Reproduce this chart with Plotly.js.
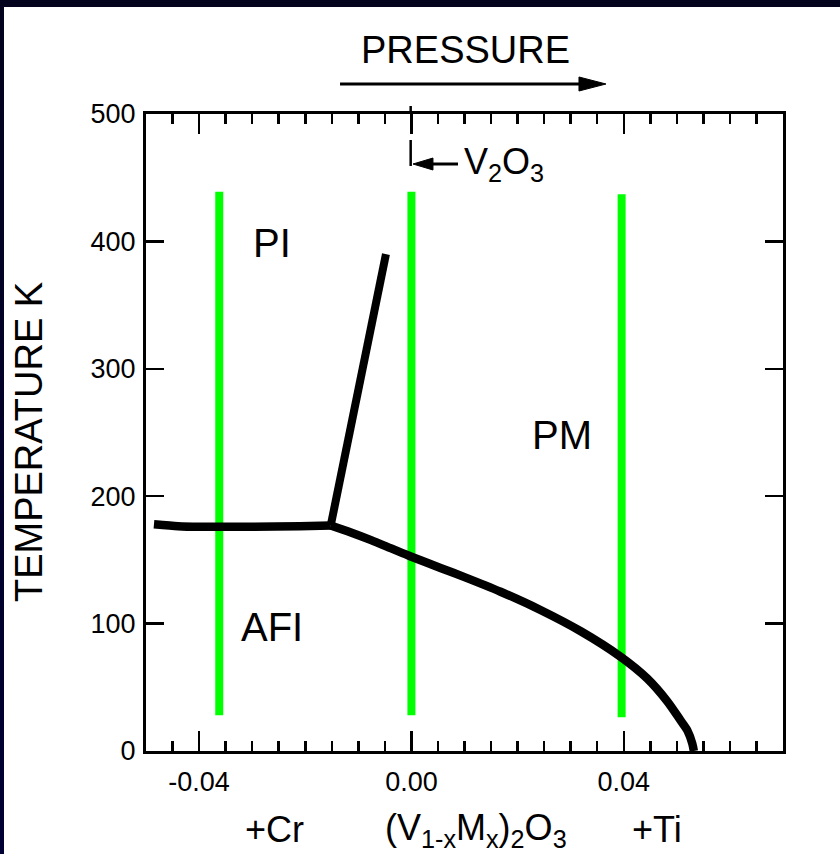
<!DOCTYPE html>
<html>
<head>
<meta charset="utf-8">
<script src="https://cdn.plot.ly/plotly-3.0.1.min.js"></script>
<style>
  html, body { margin: 0; padding: 0; width: 840px; height: 854px; overflow: hidden; }
  #frame { position: absolute; left: 0; top: 0; width: 840px; height: 854px;
           background: linear-gradient(180deg, #03031e 0%, #000034 100%); }
  #sheet { position: absolute; left: 4px; top: 7px; right: 0; bottom: 0; background: #ffffff; }
  #chart { position: absolute; left: 0; top: 0; width: 840px; height: 854px; }
</style>
</head>
<body>
<div id="frame"><div id="sheet"></div></div>
<div id="chart"></div>
<script>
// Phase diagram of (V1-xMx)2O3: doping x (Cr < 0 < Ti) vs temperature (K)

// AFI / PI boundary (nearly flat)
const afiPiX = [-0.0485, -0.0440, -0.0400, -0.0300, -0.0210, -0.0152];
const afiPiT = [178, 176.5, 176, 176, 176.5, 177];

// PI / PM boundary (steep line up from the triple point)
const piPmX = [-0.0152, -0.0048];
const piPmT = [177, 390];

// AFI / PM boundary (falling to zero on the Ti side)
const afiPmX = [-0.0152, -0.0114, -0.0076, -0.0038, 0.0000, 0.0056, 0.0100, 0.0168, 0.0244, 0.0319, 0.0394, 0.0444, 0.0482, 0.0507, 0.0520, 0.0529, 0.0532];
const afiPmT = [177, 171.5, 165.5, 159, 152.5, 143.5, 136.5, 125, 110.5, 94, 74, 57, 39, 24, 16, 6, 0];

// Green composition markers
const markerX = [-0.0362, 0.0000, 0.0396];
const markerTop = [439, 439, 437];
const markerBottom = [28, 28, 26.5];

// Axis ticks
const xTickVals = [-0.04, 0.00, 0.04];
const xTickText = ['-0.04', '0.00', '0.04'];
const yTickVals = [0, 100, 200, 300, 400, 500];

// Region names
const regionNames = ['PI', 'PM', 'AFI'];
const regionX = [-0.0263, 0.0283, -0.0263];
const regionT = [399, 248, 97];

const FONT = 'Liberation Sans, Arial, Helvetica, sans-serif';
const BLACK = '#000000';
const GREEN = '#00ff00';

const traces = [];
markerX.forEach((gx, i) => {
  traces.push({
    x: [gx, gx], y: [markerBottom[i], markerTop[i]],
    mode: 'lines', line: { color: GREEN, width: 8 }, hoverinfo: 'skip'
  });
});
traces.push({ x: afiPiX, y: afiPiT, mode: 'lines', line: { color: BLACK, width: 8.5, shape: 'spline', smoothing: 0.6 } });
traces.push({ x: piPmX, y: piPmT, mode: 'lines', line: { color: BLACK, width: 8 } });
traces.push({ x: afiPmX, y: afiPmT, mode: 'lines', cliponaxis: false, line: { color: BLACK, width: 8.5, shape: 'spline', smoothing: 0.8 } });

const center = { xanchor: 'center', yanchor: 'middle', showarrow: false };
const annotations = [];
regionNames.forEach((name, i) => {
  annotations.push(Object.assign({ x: regionX[i], y: regionT[i], xref: 'x', yref: 'y', text: name,
    font: { family: FONT, size: 40, color: BLACK } }, center));
});
annotations.push(
  Object.assign({ x: 0.5008, y: 1.1005, xref: 'paper', yref: 'paper', text: 'PRESSURE',
    font: { family: FONT, size: 38, color: BLACK } }, center),
  Object.assign({ x: -0.1837, y: 0.485, xref: 'paper', yref: 'paper', text: 'TEMPERATURE K', textangle: -90,
    font: { family: FONT, size: 38, color: BLACK } }, center),
  Object.assign({ x: 0.00947, y: 461, xref: 'x', yref: 'y', text: 'V<sub>2</sub>O<sub>3</sub>',
    font: { family: FONT, size: 36, color: BLACK } }, center, { xanchor: 'left' }),
  Object.assign({ x: 0.2025, y: -0.124, xref: 'paper', yref: 'paper', text: '+Cr',
    font: { family: FONT, size: 36, color: BLACK } }, center),
  Object.assign({ x: 0.518, y: -0.124, xref: 'paper', yref: 'paper', text: '(V<sub>1-x</sub>M<sub>x</sub>)<sub>2</sub>O<sub>3</sub>',
    font: { family: FONT, size: 36, color: BLACK } }, center),
  Object.assign({ x: 0.802, y: -0.124, xref: 'paper', yref: 'paper', text: '+Ti',
    font: { family: FONT, size: 36, color: BLACK } }, center)
);

const shapes = [
  // pressure arrow
  { type: 'line', xref: 'paper', yref: 'paper', x0: 0.3046, x1: 0.6892, y0: 1.0471, y1: 1.0471,
    line: { color: BLACK, width: 3 } },
  { type: 'path', xref: 'paper', yref: 'paper', path: 'M0.6797,1.0581 L0.7221,1.0471 L0.6797,1.0361 Z',
    fillcolor: BLACK, line: { color: BLACK, width: 1 } },
  // V2O3 pointer
  { type: 'line', xref: 'paper', yref: 'paper', x0: 0.4458, x1: 0.4898, y0: 0.9215, y1: 0.9215,
    line: { color: BLACK, width: 3 } },
  { type: 'path', xref: 'paper', yref: 'paper', path: 'M0.4505,0.9309 L0.4192,0.9215 L0.4505,0.9121 Z',
    fillcolor: BLACK, line: { color: BLACK, width: 1 } },
  { type: 'line', xref: 'paper', yref: 'paper', x0: 0.4155, x1: 0.4155, y0: 0.9592, y1: 0.9184,
    line: { color: BLACK, width: 2.5 } },
  { type: 'line', xref: 'paper', yref: 'paper', x0: 0.4155, x1: 0.4155, y0: 1.0, y1: 1.0126,
    line: { color: BLACK, width: 2.5 } }
];

const layout = {
  width: 840, height: 854,
  margin: { l: 146, r: 57, t: 114, b: 103, pad: 0 },
  paper_bgcolor: 'rgba(0,0,0,0)',
  plot_bgcolor: 'rgba(0,0,0,0)',
  showlegend: false,
  hovermode: false,
  xaxis: {
    range: [-0.05, 0.07], showgrid: false, zeroline: false,
    showline: true, linecolor: BLACK, linewidth: 3, mirror: 'ticks',
    ticks: 'inside', ticklen: 20, tickwidth: 2.5, tickcolor: BLACK,
    tickmode: 'array', tickvals: xTickVals, ticktext: xTickText,
    ticklabelstandoff: 5,
    tickfont: { family: FONT, size: 27, color: BLACK },
    minor: { dtick: 0.005, tick0: 0, ticks: 'inside', ticklen: 10, tickwidth: 2.5, tickcolor: BLACK, showgrid: false }
  },
  yaxis: {
    range: [0, 500], showgrid: false, zeroline: false,
    showline: true, linecolor: BLACK, linewidth: 3, mirror: 'ticks',
    ticks: 'inside', ticklen: 18, tickwidth: 2.5, tickcolor: BLACK,
    tickmode: 'array', tickvals: yTickVals,
    ticklabelstandoff: 2,
    tickfont: { family: FONT, size: 27, color: BLACK }
  },
  annotations: annotations,
  shapes: shapes
};

Plotly.newPlot('chart', traces, layout, { staticPlot: true, displayModeBar: false });
</script>
</body>
</html>
